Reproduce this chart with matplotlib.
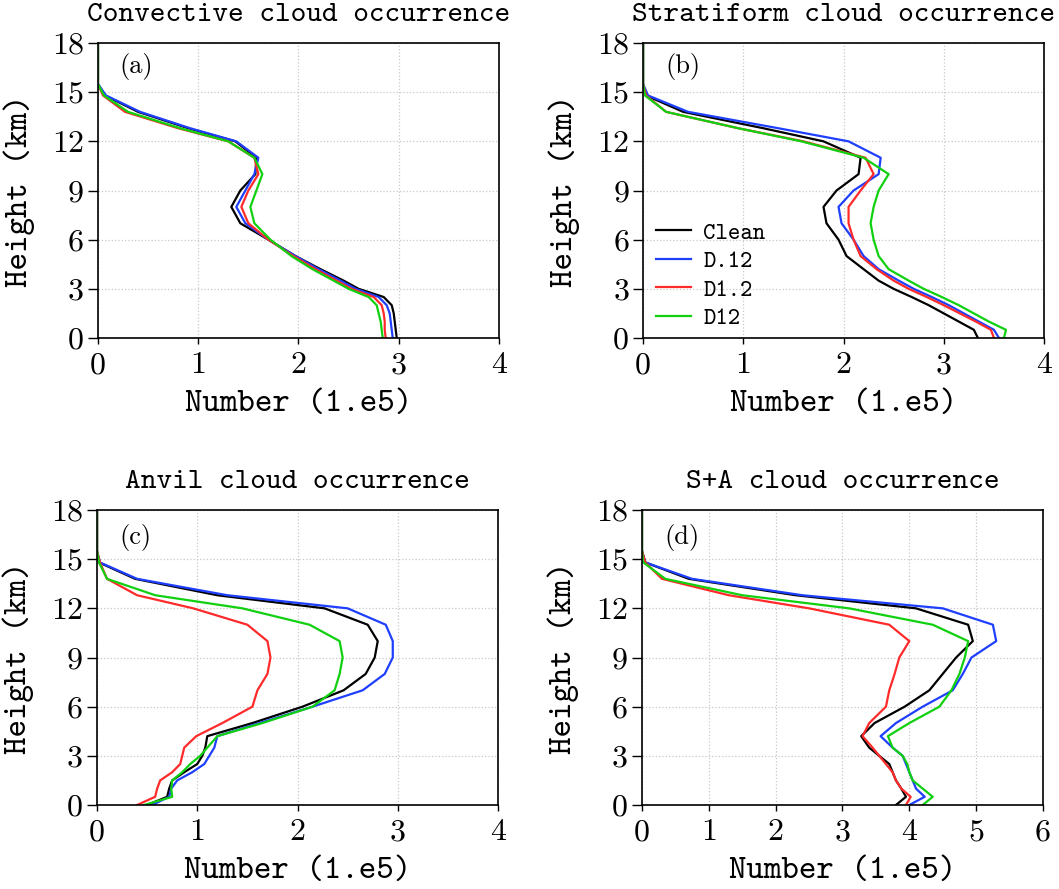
import matplotlib
matplotlib.use("Agg")
from matplotlib import pyplot as plt

# height levels (km), shared by all panels
heights = [0, 0.5, 1, 1.5, 2, 2.5, 3, 3.5, 4.2, 5, 6, 7, 8, 9, 10, 11, 12, 12.8, 13.8, 14.8, 15.5, 18]

# (a) convective
conv_clean = [2.98, 2.97, 2.96, 2.95, 2.93, 2.85, 2.60, 2.45, 2.22, 1.97, 1.70, 1.42, 1.33, 1.42, 1.57, 1.58, 1.37, 0.90, 0.40, 0.07, 0, 0]
conv_d012 = [2.94, 2.93, 2.92, 2.91, 2.88, 2.80, 2.57, 2.42, 2.20, 1.97, 1.70, 1.47, 1.38, 1.47, 1.56, 1.60, 1.38, 0.92, 0.42, 0.08, 0, 0]
conv_d12 = [2.87, 2.86, 2.86, 2.85, 2.83, 2.75, 2.53, 2.38, 2.17, 1.95, 1.70, 1.50, 1.43, 1.50, 1.60, 1.56, 1.30, 0.80, 0.27, 0.05, 0, 0]
conv_d120 = [2.84, 2.83, 2.82, 2.80, 2.78, 2.70, 2.50, 2.35, 2.14, 1.93, 1.72, 1.56, 1.52, 1.58, 1.64, 1.56, 1.30, 0.82, 0.30, 0.06, 0, 0]

# (b) stratiform
strat_clean = [3.34, 3.30, 3.15, 3.00, 2.85, 2.68, 2.50, 2.35, 2.20, 2.03, 1.95, 1.83, 1.80, 1.93, 2.15, 2.17, 1.80, 1.20, 0.40, 0.03, 0, 0]
strat_d012 = [3.55, 3.50, 3.35, 3.20, 3.05, 2.88, 2.70, 2.55, 2.35, 2.20, 2.10, 1.98, 1.95, 2.10, 2.35, 2.37, 2.05, 1.35, 0.45, 0.05, 0, 0]
strat_d12 = [3.50, 3.47, 3.32, 3.16, 3.00, 2.83, 2.65, 2.50, 2.33, 2.17, 2.10, 2.05, 2.05, 2.17, 2.30, 2.22, 1.60, 0.95, 0.23, 0.03, 0, 0]
strat_d120 = [3.60, 3.62, 3.45, 3.30, 3.15, 2.98, 2.80, 2.65, 2.45, 2.35, 2.30, 2.27, 2.30, 2.35, 2.45, 2.20, 1.58, 0.95, 0.23, 0.02, 0, 0]

# (c) anvil
anvil_clean = [0.50, 0.70, 0.72, 0.75, 0.87, 1.00, 1.05, 1.08, 1.10, 1.55, 2.05, 2.46, 2.68, 2.77, 2.80, 2.70, 2.27, 1.20, 0.38, 0.02, 0, 0]
anvil_d012 = [0.55, 0.72, 0.74, 0.80, 0.95, 1.07, 1.12, 1.17, 1.20, 1.62, 2.15, 2.65, 2.87, 2.95, 2.95, 2.88, 2.50, 1.30, 0.40, 0.03, 0, 0]
anvil_d12 = [0.40, 0.58, 0.60, 0.63, 0.75, 0.83, 0.85, 0.87, 0.99, 1.25, 1.55, 1.60, 1.70, 1.73, 1.70, 1.50, 0.96, 0.40, 0.10, 0.03, 0, 0]
anvil_d120 = [0.47, 0.75, 0.74, 0.75, 0.85, 0.93, 1.03, 1.10, 1.20, 1.65, 2.15, 2.37, 2.42, 2.45, 2.42, 2.12, 1.45, 0.58, 0.10, 0.02, 0, 0]

# (d) stratiform + anvil
sa_clean = [3.80, 3.95, 3.88, 3.80, 3.75, 3.70, 3.55, 3.40, 3.28, 3.48, 3.93, 4.30, 4.50, 4.70, 4.95, 4.88, 4.10, 2.30, 0.70, 0.05, 0, 0]
sa_d012 = [4.00, 4.23, 4.10, 4.05, 4.00, 3.95, 3.90, 3.75, 3.57, 3.80, 4.20, 4.65, 4.80, 4.93, 5.30, 5.25, 4.50, 2.40, 0.75, 0.05, 0, 0]
sa_d12 = [3.95, 4.02, 3.88, 3.80, 3.75, 3.65, 3.55, 3.45, 3.30, 3.40, 3.65, 3.70, 3.78, 3.85, 4.00, 3.70, 2.50, 1.30, 0.30, 0.05, 0, 0]
sa_d120 = [4.20, 4.35, 4.20, 4.05, 4.00, 3.97, 3.90, 3.75, 3.68, 4.00, 4.45, 4.63, 4.75, 4.83, 4.88, 4.35, 3.10, 1.50, 0.35, 0.02, 0, 0]

names = ["Clean", "D.12", "D1.2", "D12"]
colors = ["black", "#1f3fff", "#ff2a2a", "#10d010"]

titles = ["Convective cloud occurrence", "Stratiform cloud occurrence",
          "Anvil cloud occurrence", "S+A cloud occurrence"]
letters = ["(a)", "(b)", "(c)", "(d)"]
panels = [
    [conv_clean, conv_d012, conv_d12, conv_d120],
    [strat_clean, strat_d012, strat_d12, strat_d120],
    [anvil_clean, anvil_d012, anvil_d12, anvil_d120],
    [sa_clean, sa_d012, sa_d12, sa_d120],
]
xmax = [4, 4, 4, 6]
positions = [
    [0.0925, 0.6198, 0.3787, 0.3318],
    [0.6072, 0.6198, 0.3787, 0.3318],
    [0.0916, 0.0945, 0.3787, 0.3318],
    [0.6062, 0.0945, 0.3787, 0.3318],
]
letter_xy = [(0.095, 0.922), (0.10, 0.922), (0.095, 0.908), (0.10, 0.908)]

mono = "cmtt10"
serif = "cmr10"

fig = plt.figure(figsize=(10.59, 8.89), dpi=100)

for i in range(4):
    ax = fig.add_axes(positions[i])
    for j in range(4):
        ax.plot(panels[i][j], heights, color=colors[j], lw=1.6, label=names[j])
    ax.set_xlim(0, xmax[i])
    ax.set_ylim(0, 18)
    ax.set_xticks(range(0, xmax[i] + 1))
    ax.set_yticks(range(0, 19, 3))
    ax.grid(True, color="#c8c8c8", linestyle=":", linewidth=0.9)
    for s in ax.spines.values():
        s.set_linestyle((0, (2, 1)))
        s.set_linewidth(1.2)
    ax.tick_params(axis="y", direction="out", length=7, width=1.0, labelsize=23,
                   labelfontfamily=serif, pad=3)
    ax.tick_params(axis="x", direction="out", length=4, width=1.0, labelsize=23,
                   labelfontfamily=serif, pad=6)
    ax.set_title(titles[i], fontfamily=mono, fontsize=21.5, pad=16)
    ax.set_xlabel("Number (1.e5)", fontfamily=mono, fontsize=24, labelpad=8)
    ax.set_ylabel("Height (km)", fontfamily=mono, fontsize=24, labelpad=12)
    ax.text(letter_xy[i][0], letter_xy[i][1], letters[i], transform=ax.transAxes,
            fontfamily=serif, fontsize=19, ha="center", va="center")
    if i == 1:
        leg = ax.legend(loc="center left", bbox_to_anchor=(0.0, 0.21), frameon=False,
                        prop={"family": mono, "size": 17}, handlelength=1.5,
                        handletextpad=0.5, labelspacing=0.25, borderaxespad=0.15)

fig.savefig("out.png", dpi=100)
